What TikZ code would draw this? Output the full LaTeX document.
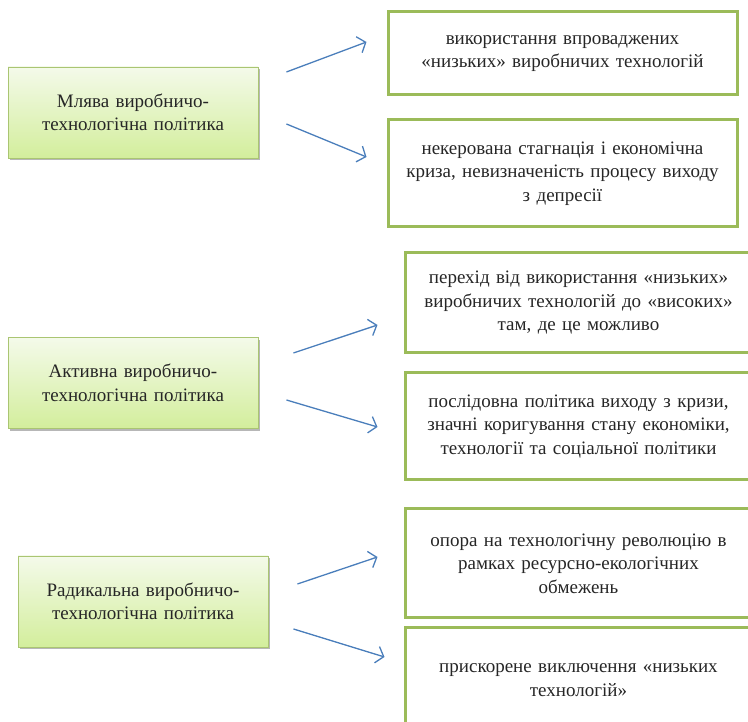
\documentclass[tikz,border=0pt]{standalone}
\usepackage{fontspec}
\setmainfont{Liberation Serif}
\usetikzlibrary{arrows.meta,shadows}
\definecolor{boxgreen}{HTML}{9BBB59}
\definecolor{arrblue}{HTML}{4A7EBB}
\definecolor{palelime}{HTML}{F4FAEA}
\definecolor{deeplime}{HTML}{D3EE9C}
\definecolor{inkgray}{HTML}{262626}
\tikzset{
    policy/.style={draw=boxgreen!85, line width=0.9pt, top color=palelime, bottom color=deeplime,
        drop shadow={shadow xshift=2pt, shadow yshift=-2.5pt, fill=black!40, opacity=0.7},
        minimum width=250pt, minimum height=91pt, text width=240pt, align=center, inner sep=0pt,
        text=inkgray, font=\fontsize{19pt}{23.5pt}\selectfont},
    result/.style={draw=boxgreen, line width=3pt, fill=white, text width=335pt, align=center,
        inner sep=0pt, text=inkgray, font=\fontsize{19pt}{23.5pt}\selectfont},
    arr/.style={draw=arrblue, line width=1.3pt, -{Straight Barb[length=7pt,width=17pt]}}
}
\begin{document}
\begin{tikzpicture}[x=1pt, y=1pt]
                    \useasboundingbox (0, 0) rectangle (748, 722);
                    \clip (0, 0) rectangle (748, 722);
                    % mlyava
                    \node[policy] (mlyava) at (133, 609.5){Млява виробничо-\\технологічна політика};
                    \node[result, minimum width=349pt, minimum height=83pt] (vykor) at (562.5, 668.5)
                        {використання впроваджених\\«низьких» виробничих технологій};
                    \node[result, minimum width=349pt, minimum height=107pt] (stagn) at (562.5, 548.5)
                        {некерована стагнація і економічна\\криза, невизначеність процесу виходу\\з депресії};
                    \draw[arr]([shift={(28, 40.5)}]mlyava.east) to ([shift={(-20, 11.5)}]vykor.west);
                    \draw[arr]([shift={(28, -11.5)}]mlyava.east) to ([shift={(-20, 16.5)}]stagn.west);
                    % aktyvna
                    \node[policy] (aktyv) at (133, 339){Активна виробничо-\\технологічна політика};
                    \node[result, minimum width=347pt, minimum height=100pt] (perehid) at (578.5, 419)
                        {перехід від використання «низьких»\\виробничих технологій до «високих»\\там, де це можливо};
                    \node[result, minimum width=347pt, minimum height=107pt] (poslid) at (578.5, 295.5)
                        {послідовна політика виходу з кризи,\\значні коригування стану економіки,\\технології та соціальної політики};
                    \draw[arr]([shift={(35, 30)}]aktyv.east) to ([shift={(-26, -22)}]perehid.west);
                    \draw[arr]([shift={(28, -17)}]aktyv.east) to ([shift={(-26, -0.5)}]poslid.west);
                    % radykalna
                    \node[policy] (radyk) at (143, 120.5){Радикальна виробничо-\\технологічна політика};
                    \node[result, minimum width=347pt, minimum height=109pt] (opora) at (578.5, 158.5)
                        {опора на технологічну революцію в\\рамках ресурсно-екологічних\\обмежень};
                    \node[result, minimum width=347pt, minimum height=104pt] (pryskor) at (578.5, 42)
                        {прискорене виключення «низьких\\технологій»};
                    \draw[arr]([shift={(29, 17.5)}]radyk.east) to ([shift={(-26, 6.5)}]opora.west);
                    \draw[arr]([shift={(25, -27.5)}]radyk.east) to ([shift={(-19, 23)}]pryskor.west);
                \end{tikzpicture}
\end{document}
